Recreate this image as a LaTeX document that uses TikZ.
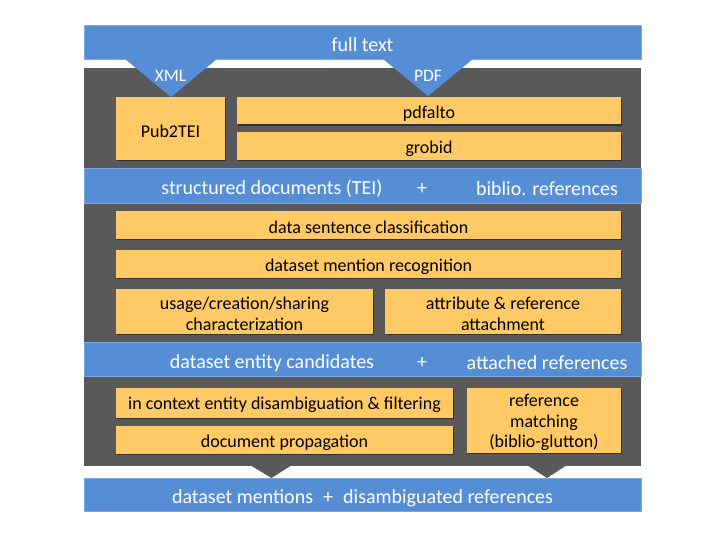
\documentclass[tikz,border=0pt]{standalone}
\usepackage{fontspec}
\setmainfont{Carlito}
\usetikzlibrary{shadows}
\definecolor{barblue}{HTML}{558ED5}
\definecolor{barline}{HTML}{7FA8DE}
\definecolor{darkbg}{HTML}{595959}
\definecolor{boxyellow}{HTML}{FFC966}
\newcommand\dnline[1]{\raisebox{-2.6pt}[\height][\depth]{#1}}
\tikzset{
  ybox/.style={fill=boxyellow, draw=none, inner sep=0pt, align=center,
    font=\fontsize{18}{20.5}\selectfont, text=black,
    drop shadow={shadow xshift=1.2pt, shadow yshift=-1.2pt, opacity=0.45, fill=black}},
  bar/.style={fill=barblue, draw=barline, line width=0.6pt},
  bartext/.style={text=white, font=\fontsize{20}{24}\selectfont, inner sep=0pt},
  tritext/.style={text=white, font=\fontsize{17.5}{20}\selectfont, inner sep=0pt},
}
\begin{document}
\begin{tikzpicture}[x=1pt,y=-1pt]
\useasboundingbox (0,0) rectangle (720,540);
\fill[white] (0,0) rectangle (720,540);
% dark background and bottom chevrons
\fill[darkbg] (84,67.7) rectangle (641,466);
\fill[darkbg] (250,465) -- (292,465) -- (271.5,478) -- cycle;
\fill[darkbg] (527,465) -- (567,465) -- (547,478) -- cycle;
% top bar and input triangles
\path[bar] (84,25) rectangle (641,59.5);
\fill[barblue] (125,59) -- (217,59) -- (171,97) -- cycle;
\fill[barblue] (383,59) -- (473,59) -- (428,96) -- cycle;
\node[bartext] (full) at (362.5,45) {full text};
\node[tritext] (xml) at (170.5,75.5) {XML};
\node[tritext] (pdf) at (428,75.5) {PDF};
% stage 1
\node[ybox, minimum width=109pt, minimum height=63pt] (pub) at (170.5,128.5) {\dnline{Pub2TEI}};
\node[ybox, minimum width=384pt, minimum height=27.5pt] (pdfalto) at (429,110.75) {\dnline{pdfalto}};
\node[ybox, minimum width=384pt, minimum height=27.5pt] (grobid) at (429,146.25) {\dnline{grobid}};
% bar 2
\path[bar] (84,168.5) rectangle (641,203.5);
\node[bartext] (tei) at (272,189) {structured documents (TEI)};
\node[bartext] (plus1) at (422,189) {+};
\node[bartext] (biblio) at (547,189) {biblio. references};
% stage 2
\node[ybox, minimum width=505pt, minimum height=28pt] (dsc) at (368.5,225) {\dnline{data sentence classification}};
\node[ybox, minimum width=505pt, minimum height=27.5pt] (dmr) at (368.5,263.75) {\dnline{dataset mention recognition}};
\node[ybox, minimum width=257pt, minimum height=45.5pt] (usage) at (244.5,311.25) {\dnline{usage/creation/sharing}\\\dnline{characterization}};
\node[ybox, minimum width=236pt, minimum height=45.5pt] (attr) at (503,311.25) {\dnline{attribute \& reference}\\\dnline{attachment}};
% bar 3
\path[bar] (84,342.7) rectangle (641,376.7);
\node[bartext] (cand) at (272,363) {dataset entity candidates};
\node[bartext] (plus2) at (422,363) {+};
\node[bartext] (attref) at (547,363) {attached references};
% stage 3
\node[ybox, minimum width=337pt, minimum height=30pt] (ctx) at (284.5,402.5) {\dnline{in context entity disambiguation \& filtering}};
\node[ybox, minimum width=337pt, minimum height=28pt] (prop) at (284.5,440) {\dnline{document propagation}};
\node[ybox, minimum width=154pt, minimum height=65.5pt] (match) at (544,420.25) {\dnline{reference}\\\dnline{matching}\\\dnline{(biblio-glutton)}};
% bottom bar
\path[bar] (84,478.3) rectangle (641,511.7);
\node[bartext] (out) at (362.5,498) {dataset mentions \;+\; disambiguated references};
\end{tikzpicture}
\end{document}
